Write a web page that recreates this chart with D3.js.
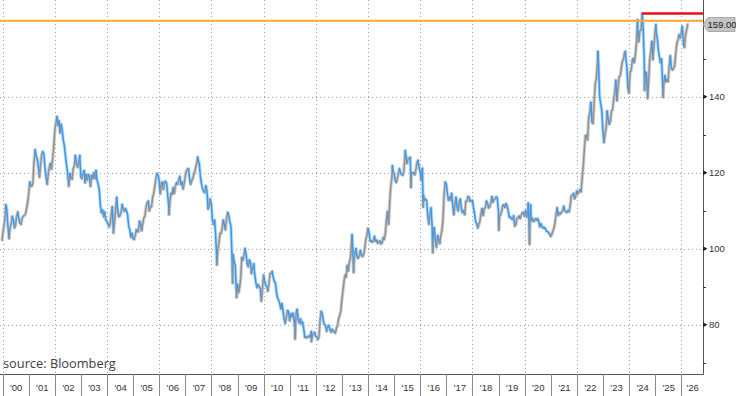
<!DOCTYPE html>
<html><head><meta charset="utf-8">
<script src="https://cdn.jsdelivr.net/npm/d3@7"></script>
<style>body{margin:0;background:#fff}svg{display:block}</style>
</head><body><script>
// USD/JPY, semi-monthly values (mid-month, month-end) per year
const d2000 = [105.5,107.3, 111.5,110.3, 106.0,102.7, 105.5,106.6, 108.5,107.6, 105.5,106.1, 108.5,109.6, 108.0,106.7, 106.5,108.0, 108.5,108.8, 109.0,110.4, 112.0,114.4];
const d2001 = [117.5,116.4, 116.5,117.3, 122.5,126.0, 124.5,123.6, 121.5,118.9, 122.0,124.7, 125.5,124.9, 121.5,118.9, 117.0,119.4, 121.5,122.4, 121.0,123.4, 126.5,131.0];
const d2002 = [133.0,134.7, 132.5,133.6, 130.5,132.7, 131.0,128.5, 127.0,124.1, 122.0,119.5, 116.5,119.8, 118.5,118.4, 121.0,121.8, 124.5,122.5, 121.5,122.5, 124.5,118.8];
const d2003 = [118.5,119.9, 120.5,117.4, 119.5,118.1, 119.5,118.9, 116.5,119.3, 118.5,119.9, 118.5,120.5, 118.0,116.9, 115.5,111.5, 109.5,110.1, 108.5,109.6, 107.5,107.2];
const d2004 = [106.5,105.8, 106.5,109.1, 111.0,104.2, 107.0,110.4, 113.5,109.6, 108.5,108.7, 109.5,111.6, 110.5,109.9, 110.5,110.0, 109.0,105.8, 105.0,103.1, 104.0,102.6];
const d2005 = [102.5,103.6, 105.0,104.6, 104.5,107.2, 106.5,104.8, 106.5,108.2, 108.5,110.9, 112.0,112.5, 110.0,111.0, 111.0,113.4, 114.5,116.4, 118.5,119.8, 119.5,117.8];
const d2006 = [114.5,117.2, 117.5,115.7, 117.5,117.7, 117.0,113.8, 111.0,112.5, 114.5,114.4, 116.0,114.6, 116.5,117.3, 117.0,118.1, 119.0,116.9, 117.5,115.8, 117.0,119.0];
const d2007 = [120.5,121.0, 121.0,118.5, 117.0,117.8, 118.5,119.5, 120.5,121.7, 123.0,123.2, 122.5,119.0, 117.0,115.8, 115.0,114.8, 116.5,115.3, 110.5,111.2, 113.0,111.7];
const d2008 = [107.5,106.4, 107.5,103.6, 97.5,99.7, 101.5,104.0, 104.0,105.5, 107.5,106.2, 105.0,108.0, 109.5,108.8, 107.0,106.0, 98.0,98.4, 96.5,95.5, 88.5,90.6];
const d2009 = [88.5,89.9, 92.5,97.6, 97.0,98.3, 100.0,98.6, 96.0,95.3, 97.0,96.4, 93.5,94.7, 96.0,93.0, 91.0,89.8, 90.5,90.0, 89.5,86.3, 89.5,93.0];
const d2010 = [91.5,90.3, 90.0,88.9, 90.5,93.5, 93.5,94.0, 92.5,91.3, 91.0,88.4, 87.0,86.4, 85.5,84.2, 85.5,83.5, 81.5,80.4, 82.0,83.7, 83.5,81.1];
const d2011 = [82.8,82.1, 83.0,81.8, 79.0,83.1, 84.0,81.2, 80.5,81.5, 80.3,80.6, 79.0,76.7, 76.8,76.6, 76.8,77.0, 76.8,78.2, 77.2,77.6, 77.9,76.9];
const d2012 = [76.8,76.2, 76.9,81.2, 83.5,82.9, 81.0,80.0, 79.8,78.3, 79.5,79.8, 78.8,78.1, 78.8,78.4, 78.0,77.9, 79.0,79.8, 81.5,82.5, 83.5,86.7];
const d2013 = [89.0,91.7, 93.0,92.6, 95.5,94.2, 96.5,97.5, 101.8,100.5, 95.5,99.1, 100.0,97.9, 97.5,98.1, 99.5,98.3, 98.0,98.4, 100.0,102.4, 103.5,105.3];
const d2014 = [104.2,102.0, 102.0,101.8, 102.0,103.2, 102.0,102.2, 101.5,101.8, 102.0,101.3, 101.5,102.8, 102.5,104.1, 107.5,109.7, 106.5,112.3, 116.5,118.6, 120.5,119.8];
const d2015 = [118.0,117.5, 118.5,119.6, 121.0,120.1, 119.5,119.4, 120.0,124.1, 124.5,122.5, 123.5,123.9, 124.0,120.0, 120.0,119.9, 119.5,120.6, 122.5,123.2, 121.5,120.2];
const d2016 = [118.0,121.1, 114.0,112.7, 113.0,112.6, 108.5,106.5, 109.0,110.7, 106.0,102.7, 105.5,102.1, 100.5,103.4, 102.5,101.4, 103.5,104.8, 108.0,114.5, 117.5,117.0];
const d2017 = [114.5,112.8, 113.5,112.8, 114.5,111.4, 109.0,111.5, 113.5,110.8, 110.0,112.4, 113.0,110.3, 109.5,110.0, 109.0,112.5, 112.5,113.7, 113.5,112.5, 112.5,112.7];
const d2018 = [110.8,109.2, 107.0,106.7, 105.5,106.3, 107.3,109.3, 110.5,108.8, 110.5,110.8, 112.5,111.9, 110.8,111.0, 112.0,113.7, 112.3,112.9, 113.2,113.6, 113.3,109.7];
const d2019 = [108.5,108.9, 110.0,111.4, 111.5,110.9, 111.8,111.4, 110.0,108.3, 108.3,107.9, 107.8,108.6, 106.0,106.3, 108.0,108.1, 108.5,108.0, 108.8,109.5, 109.5,108.6];
const d2020 = [110.0,108.4, 109.9,107.9, 106.0,107.5, 108.0,107.2, 107.3,107.8, 107.5,107.9, 107.3,105.8, 106.5,105.9, 105.5,105.5, 105.4,104.7, 104.5,104.3, 103.8,103.3];
const d2021 = [103.8,104.7, 105.5,106.6, 109.0,110.7, 108.8,109.3, 109.2,109.6, 110.0,111.1, 110.0,109.7, 109.6,110.0, 109.8,111.3, 114.0,114.0, 114.5,113.2, 113.8,115.1];
const d2022 = [114.5,115.1, 115.5,115.0, 118.5,121.7, 126.0,129.8, 129.8,128.7, 134.5,135.7, 138.5,133.3, 133.0,138.9, 143.5,144.7, 148.5,148.7, 140.0,138.1, 136.5,131.1];
const d2023 = [128.0,130.1, 132.0,136.2, 134.0,132.8, 133.5,136.3, 136.5,139.3, 141.0,144.3, 139.0,142.3, 145.2,145.5, 147.5,149.4, 149.8,151.7, 150.5,148.2, 142.5,141.0];
const d2024 = [146.5,146.9, 149.5,150.0, 149.0,151.3, 154.5,157.8, 154.5,157.3, 157.5,160.9, 158.5,150.0, 146.5,146.2, 141.0,143.6, 149.5,152.0, 154.5,149.8, 153.5,157.2];
const d2025 = [157.0,155.2, 152.0,150.6, 149.0,149.9, 143.0,143.1, 145.5,144.0, 144.5,144.0, 148.0,150.7, 147.5,147.1, 147.5,148.1, 151.5,154.0, 155.0,156.2, 155.5,156.7];
const d2026 = [158.5,154.0, 153.0,156.0, 157.5,159.0];

// notable extremes
const keyPoints = [
  ["1999-12-24",102.3],["2006-05-17",109.0],["2007-06-22",124.1],
  ["2008-03-17",95.8],["2008-10-24",91.0],["2008-12-17",87.2],
  ["2011-03-17",76.3],["2011-10-31",75.6],["2013-05-22",103.7],["2013-06-13",93.8],
  ["2014-12-08",121.8],["2015-06-05",125.8],["2015-08-24",116.2],
  ["2016-02-11",111.0],["2016-06-24",99.0],["2019-01-03",104.9],
  ["2020-02-20",112.0],["2020-03-09",101.2],["2020-03-24",111.5],
  ["2022-10-21",151.9],["2023-11-13",151.9],
  ["2024-04-29",160.2],["2024-07-03",161.9],["2024-08-05",141.7],["2024-09-16",139.6],
  ["2025-01-10",158.9],["2025-04-22",139.9]
];

const yearTicks = d3.range(2000, 2027);
const yMajor = [80, 100, 120, 140];
const yMinor = [70, 90, 110, 130, 150];
const gridY = [80, 100, 120, 140, 160];
const interventionLevel = 160;
const peakLevel = 161.9;
const peakDate = "2024-07-03";
const lastValue = 159.00;
const sourceText = "source: Bloomberg";

const W = 736, H = 396;
const R = 703, B = 374;
const x = d3.scaleTime().domain([new Date(2000,0,1), new Date(2026,0,1)]).range([2.6, 681.3]);
const y = d3.scaleLinear().domain([100, 140]).range([248.7, 96.7]);

const years = [d2000,d2001,d2002,d2003,d2004,d2005,d2006,d2007,d2008,d2009,d2010,d2011,d2012,d2013,d2014,d2015,d2016,d2017,d2018,d2019,d2020,d2021,d2022,d2023,d2024,d2025,d2026];
let pts = [];
years.forEach((arr, k) => {
  const yr = 2000 + k;
  arr.forEach((v, i) => {
    const m = Math.floor(i / 2);
    const date = i % 2 === 0 ? new Date(yr, m, 15) : new Date(yr, m + 1, 0);
    pts.push({date, v});
  });
});
keyPoints.forEach(([s, v]) => pts.push({date: new Date(s + "T00:00:00"), v}));
pts.sort((a, b) => a.date - b.date);

const svg = d3.select("body").append("svg").attr("width", W).attr("height", H)
  .style("font-family", "'Liberation Sans', Arial, sans-serif");

svg.append("defs").append("clipPath").attr("id", "clip")
  .append("rect").attr("x", 0).attr("y", 0).attr("width", R).attr("height", B);

// gridlines
const grid = svg.append("g").attr("stroke", "#a0a0a0").attr("stroke-width", 1).attr("stroke-dasharray", "1,3");
yearTicks.filter(t => t % 2 === 0).forEach(t => {
  const xx = Math.round(x(new Date(t,0,1))) + 0.5;
  grid.append("line").attr("x1", xx).attr("x2", xx).attr("y1", 0).attr("y2", B);
});
gridY.forEach(v => {
  const yy = Math.round(y(v)) + 0.5;
  grid.append("line").attr("x1", 0).attr("x2", R).attr("y1", yy).attr("y2", yy);
});

// series, coloured by direction
const runs = [];
let cur = null;
for (let i = 1; i < pts.length; i++) {
  const up = pts[i].v >= pts[i-1].v;
  if (!cur || cur.up !== up) { cur = {up, pts: [pts[i-1]]}; runs.push(cur); }
  cur.pts.push(pts[i]);
}
const line = d3.line().x(d => x(d.date)).y(d => y(d.v));
const sg = svg.append("g").attr("clip-path", "url(#clip)").attr("fill", "none")
  .attr("stroke-linejoin", "round").attr("stroke-linecap", "round");
// soft halo (daily noise band)
runs.forEach(r => sg.append("path").attr("d", line(r.pts)).attr("stroke", r.up ? "#c4c4c4" : "#a9d3fa")
  .attr("stroke-width", 3.4).attr("stroke-opacity", 0.8));
runs.forEach(r => sg.append("path").attr("d", line(r.pts)).attr("stroke", r.up ? "#929292" : "#3897ee")
  .attr("stroke-width", 1.5));

// reference lines
svg.append("line").attr("x1", 0).attr("x2", R).attr("y1", y(interventionLevel)).attr("y2", y(interventionLevel))
  .attr("stroke", "#ffa733").attr("stroke-width", 2);
svg.append("line").attr("x1", x(new Date(peakDate + "T00:00:00"))).attr("x2", R)
  .attr("y1", y(peakLevel)).attr("y2", y(peakLevel)).attr("stroke", "#e8101c").attr("stroke-width", 2.5);

// axes frame
svg.append("line").attr("x1", R + 0.5).attr("x2", R + 0.5).attr("y1", 0).attr("y2", B + 0.5).attr("stroke", "#555");
svg.append("line").attr("x1", 0).attr("x2", R + 0.5).attr("y1", B + 0.5).attr("y2", B + 0.5).attr("stroke", "#555");

// x axis separators and labels
yearTicks.forEach(t => {
  const xx = Math.round(x(new Date(t,0,1))) + 0.5;
  svg.append("line").attr("x1", xx).attr("x2", xx).attr("y1", B).attr("y2", H).attr("stroke", "#8a8a8a");
  const xn = Math.min(x(new Date(t+1,0,1)), R);
  svg.append("text").attr("x", (x(new Date(t,0,1)) + xn) / 2 + 0.5).attr("y", 391)
    .attr("text-anchor", "middle").attr("font-size", 9.5).attr("fill", "#333")
    .text("'" + String(t % 100).padStart(2, "0"));
});

// y axis ticks and labels
yMinor.forEach(v => {
  const yy = Math.round(y(v)) + 0.5;
  svg.append("line").attr("x1", R).attr("x2", R + 3).attr("y1", yy).attr("y2", yy).attr("stroke", "#333");
});
yMajor.forEach(v => {
  const yy = y(v);
  svg.append("path").attr("d", `M${R},${yy-2.5}L${R+4.5},${yy}L${R},${yy+2.5}Z`).attr("fill", "#222");
  svg.append("text").attr("x", 709).attr("y", yy + 3.4).attr("font-size", 9.5).attr("fill", "#333").text(v);
});

// last value label
const ly = y(lastValue);
svg.append("path").attr("d", `M${R},${ly}L${R+5},${ly-7}L735,${ly-7}L735,${ly+7}L${R+5},${ly+7}Z`)
  .attr("fill", "#c4c4c4").attr("stroke", "#9a9a9a").attr("stroke-width", 0.8);
svg.append("text").attr("x", 707.5).attr("y", ly + 3.5).attr("font-size", 9.5).attr("fill", "#222").text(lastValue.toFixed(2));

// source
svg.append("text").attr("x", 3).attr("y", 368).attr("font-size", 12.8)
  .attr("font-family", "'Open Sans', 'Noto Sans', sans-serif").attr("fill", "#404040").text(sourceText);
</script></body></html>
